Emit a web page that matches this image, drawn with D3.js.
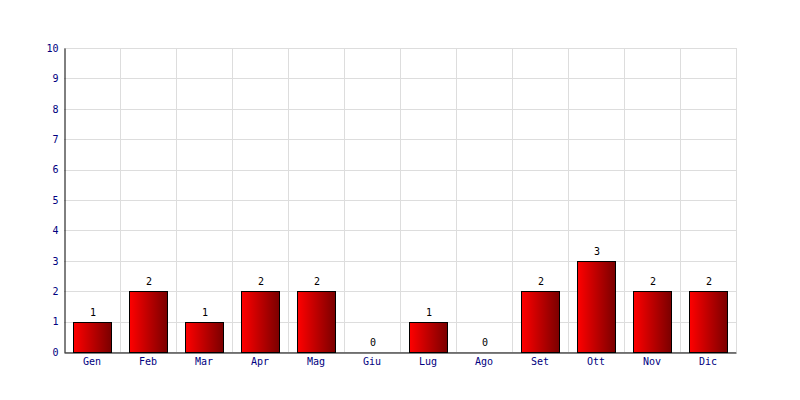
<!DOCTYPE html>
<html><head><meta charset="utf-8">
<script src="https://cdn.jsdelivr.net/npm/d3@7"></script>
<style>body{margin:0;background:#fff}svg{display:block}</style>
</head><body><svg id="c" width="800" height="400"></svg>
<script>
const categories = ["Gen","Feb","Mar","Apr","Mag","Giu","Lug","Ago","Set","Ott","Nov","Dic"];
const values = [1,2,1,2,2,0,1,0,2,3,2,2];
const yTicks = [0,1,2,3,4,5,6,7,8,9,10];

const svg = d3.select("#c");
const m = {l:64, r:64, t:48, b:48};
const W = 800, H = 400;
const x = d3.scaleBand().domain(categories).range([m.l, W-m.r]).paddingInner(0).paddingOuter(0);
const y = d3.scaleLinear().domain([0,10]).range([H-m.b, m.t]);
const font = "'DejaVu Sans Mono', monospace";

const defs = svg.append("defs");
const g = defs.append("linearGradient").attr("id","grad").attr("x1","0").attr("x2","1").attr("y1","0").attr("y2","0");
g.append("stop").attr("offset","0").attr("stop-color","#ff0000");
g.append("stop").attr("offset","1").attr("stop-color","#7a0000");

// grid
svg.append("g").selectAll("line").data(yTicks).join("line")
  .attr("x1", m.l).attr("x2", W-m.r)
  .attr("y1", d=>Math.round(y(d))+0.5).attr("y2", d=>Math.round(y(d))+0.5)
  .attr("stroke","#dddddd");
const vb = categories.map(c=>x(c)+x.bandwidth());
svg.append("g").selectAll("line").data(vb).join("line")
  .attr("x1", d=>Math.round(d)+0.5).attr("x2", d=>Math.round(d)+0.5)
  .attr("y1", m.t).attr("y2", H-m.b)
  .attr("stroke","#dddddd");

// bars
const bw = x.bandwidth()*0.68;
svg.append("g").selectAll("rect").data(values.map((v,i)=>({c:categories[i],v}))).join("rect")
  .filter(d=>d.v>0)
  .attr("x", d=>Math.round(x(d.c)+(x.bandwidth()-bw)/2)+0.5)
  .attr("y", d=>Math.round(y(d.v))+0.5)
  .attr("width", Math.round(bw))
  .attr("height", d=>Math.round(y(0))-Math.round(y(d.v)))
  .attr("fill","url(#grad)").attr("stroke","#000").attr("stroke-width",1);

// value labels
svg.append("g").selectAll("text").data(values.map((v,i)=>({c:categories[i],v}))).join("text")
  .attr("x", d=>x(d.c)+x.bandwidth()/2+1)
  .attr("y", d=>y(d.v)-6)
  .attr("text-anchor","middle")
  .attr("font-family", font).attr("font-size", 10).attr("fill","#000")
  .text(d=>d.v);

// axes
const yAxis = d3.axisLeft(y).tickValues(yTicks).tickSize(0).tickPadding(6).tickFormat(d3.format("d"));
const ya = svg.append("g").attr("transform",`translate(${m.l+0.5},0)`).call(yAxis);
ya.select(".domain").attr("stroke","#000");
ya.selectAll("text").attr("font-family",font).attr("font-size",10).attr("fill","#000080");

const xAxis = d3.axisBottom(x).tickSize(0).tickPadding(5);
const xa = svg.append("g").attr("transform",`translate(0,${Math.round(y(0))+0.5})`).call(xAxis);
xa.select(".domain").attr("stroke","#000");
xa.selectAll("text").attr("font-family",font).attr("font-size",10).attr("fill","#000080");
</script></body></html>
